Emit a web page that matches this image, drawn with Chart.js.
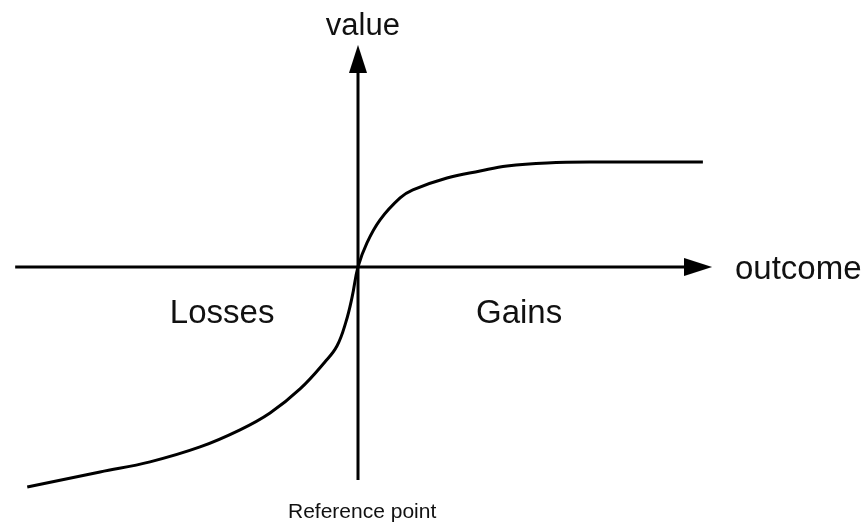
<!DOCTYPE html>
<html>
<head>
<meta charset="utf-8">
<script src="https://cdn.jsdelivr.net/npm/chart.js@4/dist/chart.umd.min.js"></script>
<style>
    body { margin: 0; background: #ffffff; }
    #wrap { width: 865px; height: 526px; }
</style>
</head>
<body>
<div id="wrap"><canvas id="myChart"></canvas></div>
<script>
// value function (outcome, value)
var outcomeValues = [-9.59, -7.48, -6.03, -4.58, -3.42, -2.55, -1.68, -0.96, -0.61, -0.35, -0.17, 0, 0.26, 0.64, 1.22, 1.59, 2.58, 3.54, 4.32, 5.48, 7.01, 10.0];
var valueValues = [-10.05, -9.36, -8.90, -8.22, -7.44, -6.67, -5.57, -4.34, -3.61, -2.51, -1.37, 0, 1.10, 2.15, 3.15, 3.52, 4.06, 4.38, 4.61, 4.75, 4.79, 4.79];

// axis ends
var outcomeAxisX = [-9.94, 9.86];
var valueAxisY = [-9.73, 9.5];

// texts
var labelTexts = ["value", "outcome", "Losses", "Gains", "Reference point"];
var labelX = [0.14, 10.93, -3.94, 4.67, 0.12];
var labelY = [10.59, -0.55, -2.56, -2.56, -11.46];

function MakeArrow() {
    // right pointing arrow head used as point style
    let c = document.createElement("canvas");
    c.width = 28;
    c.height = 18;
    let g = c.getContext("2d");
    g.fillStyle = "#000000";
    g.beginPath();
    g.moveTo(0, 0);
    g.lineTo(28, 9);
    g.lineTo(0, 18);
    g.closePath();
    g.fill();
    return c;
}

function BuildPoints(xs, ys) {
    let pts = [];
    for (let i = 0; i < xs.length; i++) {
        pts[i] = { x: xs[i], y: ys[i] };
    }
    return pts;
}

var textPlugin = {
    id: "texts",
    afterDatasetsDraw: function (chart) {
        let ctx = chart.ctx;
        let sx = chart.scales.x;
        let sy = chart.scales.y;
        ctx.save();
        ctx.fillStyle = "#111111";
        ctx.textBaseline = "alphabetic";
        for (let i = 0; i < labelTexts.length; i++) {
            let size = 33;
            if (i == 0) size = 31;
            if (i == 4) size = 21;
            ctx.font = size + "px 'Liberation Sans', Arial, sans-serif";
            ctx.textAlign = (i == 1) ? "left" : "center";
            ctx.fillText(labelTexts[i], sx.getPixelForValue(labelX[i]), sy.getPixelForValue(labelY[i]));
        }
        ctx.restore();
    }
};

var arrow = MakeArrow();

var ctx = document.getElementById("myChart").getContext("2d");
var myChart = new Chart(ctx, {
    type: "scatter",
    data: {
        datasets: [{
                data: BuildPoints(outcomeAxisX, [0, 0]),
                showLine: true,
                borderColor: "#000000",
                borderWidth: 3,
                pointRadius: [0, 10],
                pointStyle: arrow,
                pointRotation: 0,
                clip: false
            },
            {
                data: BuildPoints([0, 0], valueAxisY),
                showLine: true,
                borderColor: "#000000",
                borderWidth: 3,
                pointRadius: [0, 10],
                pointStyle: arrow,
                pointRotation: -90,
                clip: false
            },
            {
                data: BuildPoints(outcomeValues, valueValues),
                showLine: true,
                borderColor: "#000000",
                borderWidth: 3,
                pointRadius: 0,
                tension: 0.4,
                clip: false
            }
        ]
    },
    options: {
        responsive: true,
        maintainAspectRatio: false,
        animation: false,
        layout: { padding: 0, autoPadding: false },
        plugins: {
            legend: { display: false },
            tooltip: { enabled: false }
        },
        scales: {
            x: { type: "linear", min: -10.38, max: 14.70, display: false },
            y: { type: "linear", min: -11.83, max: 12.19, display: false }
        }
    },
    plugins: [textPlugin]
});
</script>
</body>
</html>
